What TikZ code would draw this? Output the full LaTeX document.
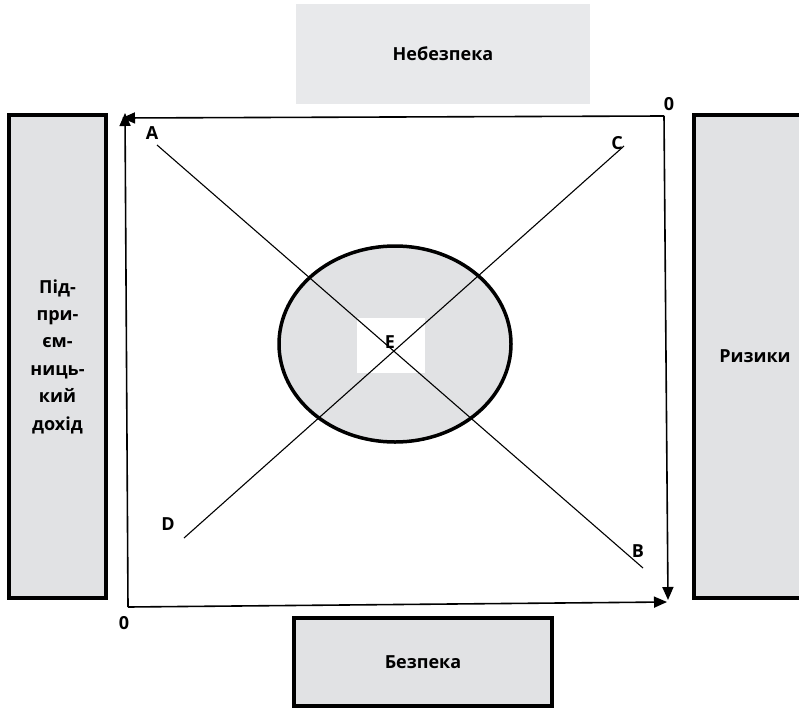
\documentclass[tikz,border=0pt]{standalone}
\usepackage{fontspec}
\setmainfont{Open Sans}
\usetikzlibrary{arrows.meta}
\definecolor{boxgray}{HTML}{E1E2E4}
\definecolor{topgray}{HTML}{E8E9EB}
\begin{document}
\begin{tikzpicture}[x=1pt,y=-1pt,
  every node/.style = {font=\bfseries\fontsize{18}{27.4}\selectfont,
    align=center, inner sep=0pt},
  box/.style = {shape=rectangle, draw, line width=3.5pt, fill=boxgray},
  axis/.style = {line width=1.6pt, -{Triangle[length=13pt,width=11pt]}},
  diag/.style = {line width=1.1pt}]
  \useasboundingbox (0,0) rectangle (799,714);
  \node (nebezpeka) [fill=topgray, minimum width=294pt, minimum height=100pt]
    at (443,54) {Небезпека};
  \node (dokhid) [box, minimum width=97pt, minimum height=483pt]
    at (57.5,356.5) {Під-\\при-\\єм-\\ниць-\\кий\\дохід};
  \node (ryzyky) [box, minimum width=122pt, minimum height=483pt]
    at (755,356.5) {Ризики};
  \node (bezpeka) [box, minimum width=258pt, minimum height=88pt]
    at (423,662) {Безпека};
  \coordinate (o) at (128,607);
  \coordinate (t) at (664,116);
  \coordinate (otop) at (125,113);
  \coordinate (oright) at (667,602);
  \coordinate (tleft) at (122,118);
  \coordinate (tdown) at (668,600);
  \draw[axis] (o) -- (otop);
  \draw[axis] (o) -- (oright);
  \draw[axis] (t) -- (tleft);
  \draw[axis] (t) -- (tdown);
  \node (zero1) at (124,623) {0};
  \node (zero2) at (669,104) {0};
  \draw[line width=3.5pt, fill=boxgray] (395,344) ellipse [x radius=116pt, y radius=98pt];
  \fill[white] (357,318) rectangle (425,373);
  \coordinate (a) at (157,145);
  \coordinate (b) at (643,568);
  \coordinate (c) at (624,146);
  \coordinate (d) at (184,538);
  \draw[diag] (a) -- (b);
  \draw[diag] (c) -- (d);
  \node (la) at (152,133) {A};
  \node (lb) at (638,551) {B};
  \node (lc) at (617,143) {C};
  \node (ld) at (168,524) {D};
  \node (le) at (390,342) {E};
\end{tikzpicture}
\end{document}
